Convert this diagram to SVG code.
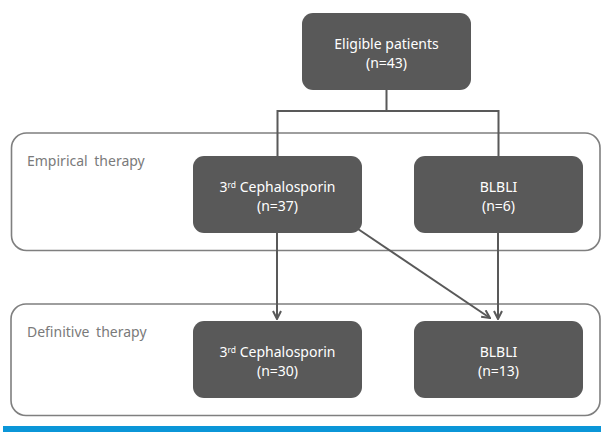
<svg xmlns="http://www.w3.org/2000/svg" width="601" height="432" viewBox="0 0 601 432">
<defs>
<style>
.frame{fill:#ffffff;stroke:#7f7f7f;stroke-width:1.6}
.node{fill:#595959}
.nt{fill:#ffffff;font-family:"Noto Sans","Open Sans","DejaVu Sans",sans-serif;font-size:14px;text-anchor:middle}
.sup{font-size:8.5px}
.lbl{fill:#7a7a7a;font-family:"Noto Sans","Open Sans","DejaVu Sans",sans-serif;font-size:14px;word-spacing:3px}
.conn{fill:none;stroke:#595959;stroke-width:2}
</style>
<marker id="arr" viewBox="0 0 10 10" refX="9" refY="5" markerWidth="10" markerHeight="10" markerUnits="userSpaceOnUse" orient="auto">
<path d="M1,1 L9,5 L1,9" fill="none" stroke="#595959" stroke-width="2"/>
</marker>
</defs>
<rect width="601" height="432" fill="#ffffff"/>
<g id="empirical-frame">
<rect class="frame" x="11.5" y="133" width="588.5" height="117.5" rx="15"/>
<text class="lbl" x="27" y="166">Empirical therapy</text>
</g>
<g id="definitive-frame">
<rect class="frame" x="11" y="304" width="589" height="111.5" rx="15"/>
<text class="lbl" x="27" y="337">Definitive therapy</text>
</g>
<g id="connectors">
<polyline class="conn" points="386.5,90 386.5,111 277.5,111 277.5,156"/>
<polyline class="conn" points="386.5,111 498.5,111 498.5,156"/>
<line class="conn" x1="277" y1="233" x2="277" y2="319" marker-end="url(#arr)"/>
<line class="conn" x1="498" y1="233" x2="498" y2="319" marker-end="url(#arr)"/>
<line class="conn" x1="356.5" y1="228" x2="490" y2="318" marker-end="url(#arr)"/>
</g>
<g id="eligible">
<rect class="node" x="302" y="13" width="169" height="77" rx="11"/>
<text class="nt" x="386.5" y="48.5">Eligible patients</text>
<text class="nt" x="386.5" y="68">(n=43)</text>
</g>
<g id="emp-ceph">
<rect class="node" x="193" y="156" width="169" height="77" rx="11"/>
<text class="nt" x="277.5" y="191.5">3<tspan class="sup" dy="-4">rd</tspan><tspan dy="4"> Cephalosporin</tspan></text>
<text class="nt" x="277.5" y="211">(n=37)</text>
</g>
<g id="emp-blbli">
<rect class="node" x="414" y="156" width="169" height="77" rx="11"/>
<text class="nt" x="498.5" y="191.5">BLBLI</text>
<text class="nt" x="498.5" y="211">(n=6)</text>
</g>
<g id="def-ceph">
<rect class="node" x="193" y="321" width="169" height="77" rx="11"/>
<text class="nt" x="277.5" y="356.5">3<tspan class="sup" dy="-4">rd</tspan><tspan dy="4"> Cephalosporin</tspan></text>
<text class="nt" x="277.5" y="376">(n=30)</text>
</g>
<g id="def-blbli">
<rect class="node" x="414" y="321" width="169" height="77" rx="11"/>
<text class="nt" x="498.5" y="356.5">BLBLI</text>
<text class="nt" x="498.5" y="376">(n=13)</text>
</g>
<rect id="bar" x="3" y="426" width="598" height="6" fill="#0b96d8"/>
</svg>
